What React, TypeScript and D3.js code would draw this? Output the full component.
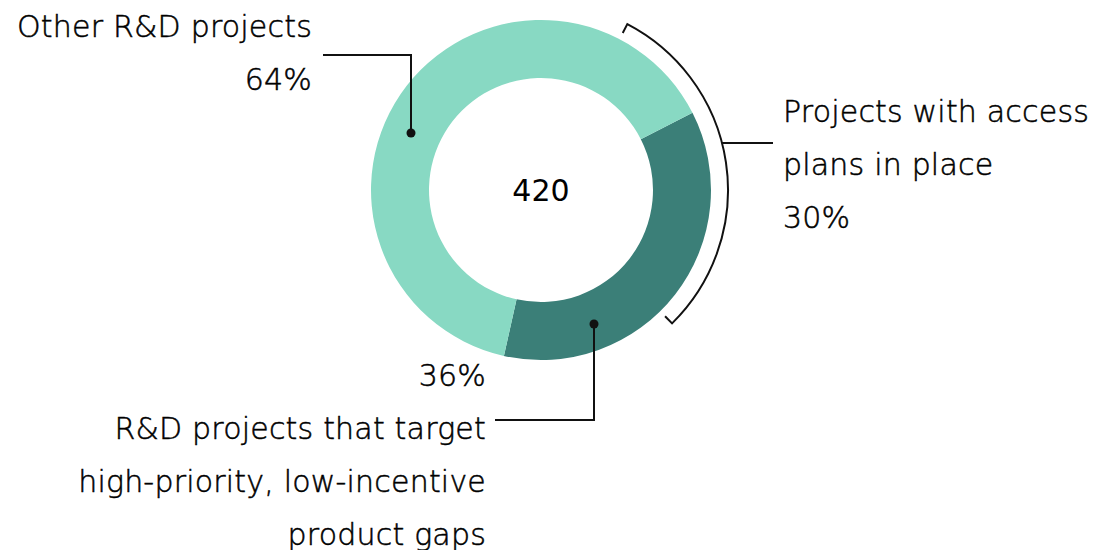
import React from "react";
import * as d3 from "d3";

const categories = ["R&D projects that target high-priority, low-incentive product gaps", "Other R&D projects"];
const shares = [36, 64];
const colors = ["#3b7f78", "#88d9c3"];
const accessShare = 30;
const total = "420";
const otherLabel = ["Other R&D projects", "64%"];
const gapLabel = ["36%", "R&D projects that target", "high-priority, low-incentive", "product gaps"];
const accessLabel = ["Projects with access", "plans in place", "30%"];

const W = 1095, H = 550;
const cx = 541, cy = 190;
const outerR = 170, innerR = 112;
const bracketR = 187;
const deg = Math.PI / 180;
const font = "'DejaVu Sans', sans-serif";

export default function App() {
  const pie = d3.pie<number>().sort(null).value((d) => d)
    .startAngle(63 * deg).endAngle(63 * deg + 2 * Math.PI);
  const arcs = pie(shares);
  const arc = d3.arc<d3.PieArcDatum<number>>().innerRadius(innerR).outerRadius(outerR);

  const bStart = 27.5 * deg;
  const bEnd = bStart + (accessShare / 100) * 2 * Math.PI;
  const p = d3.path();
  const pt = (r: number, a: number) => [cx + r * Math.sin(a), cy - r * Math.cos(a)];
  const [t0x, t0y] = pt(bracketR - 10, bStart);
  const [s0x, s0y] = pt(bracketR, bStart);
  p.moveTo(t0x, t0y);
  p.lineTo(s0x, s0y);
  p.arc(cx, cy, bracketR, bStart - Math.PI / 2, bEnd - Math.PI / 2, false);
  const [t1x, t1y] = pt(bracketR - 10, bEnd);
  p.lineTo(t1x, t1y);

  const connY = 143;
  const connX0 = cx + Math.sqrt(bracketR * bracketR - (cy - connY) ** 2);

  const lh = 53;
  const fs = 30;
  const ls = 0.2;
  const textProps = { fontFamily: font, fontSize: fs, fontWeight: 300, letterSpacing: ls, fill: "#000", stroke: "#000", strokeWidth: 0.5 };
  return (
    <div style={{ position: "absolute", left: 0, top: 0 }}>
      <svg width={W} height={H} style={{ display: "block" }}>
        <rect width={W} height={H} fill="#fff" />
        <g transform={`translate(${cx},${cy})`}>
          {arcs.map((a, i) => (
            <path key={categories[i]} d={arc(a) || ""} fill={colors[i]} />
          ))}
        </g>
        <text x={cx} y={cy + 11} textAnchor="middle" fontFamily={font} fontSize={30} fontWeight={400} fill="#000">{total}</text>
        <path d={p.toString()} fill="none" stroke="#111" strokeWidth={2} />
        <line x1={connX0} y1={connY} x2={773} y2={connY} stroke="#111" strokeWidth={2} />
        {accessLabel.map((t, i) => (
          <text key={t} x={783} y={122 + i * lh} {...textProps}>{t}</text>
        ))}
        {otherLabel.map((t, i) => (
          <text key={t} x={312} y={37 + i * lh} textAnchor="end" {...textProps}>{t}</text>
        ))}
        <polyline points="323,55 411,55 411,133" fill="none" stroke="#111" strokeWidth={2} />
        <circle cx={411} cy={133} r={4.5} fill="#111" />
        {gapLabel.map((t, i) => (
          <text key={t} x={486} y={386 + i * lh} textAnchor="end" {...textProps}>{t}</text>
        ))}
        <polyline points="495,420 594,420 594,324" fill="none" stroke="#111" strokeWidth={2} />
        <circle cx={594} cy={324} r={4.5} fill="#111" />
      </svg>
    </div>
  );
}
